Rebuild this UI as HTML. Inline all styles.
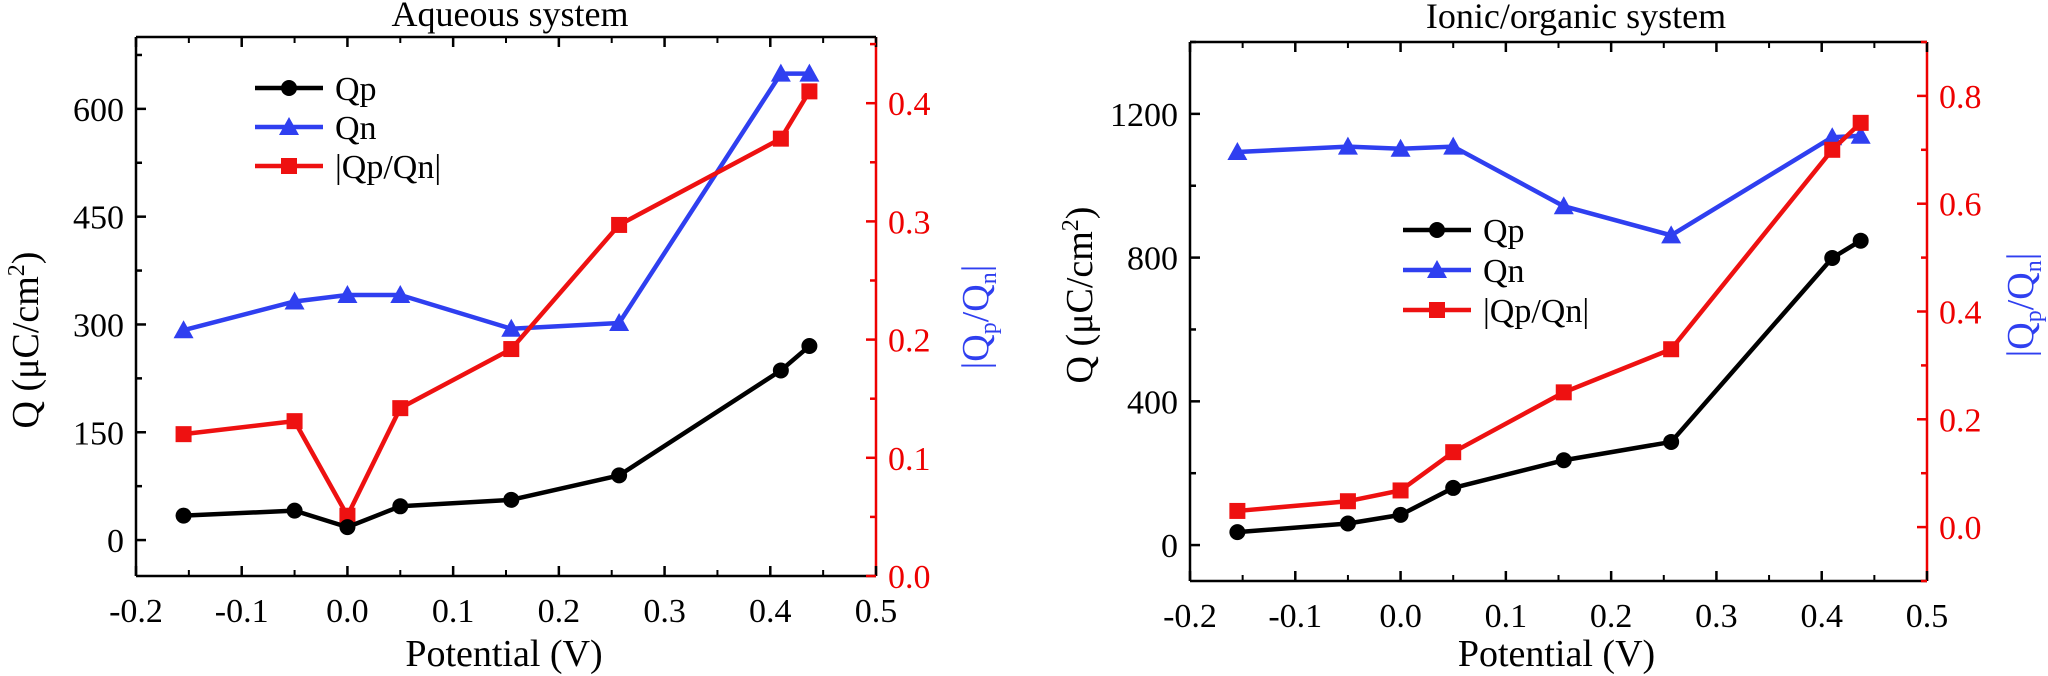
<!DOCTYPE html>
<html><head><meta charset="utf-8"><style>
html,body{margin:0;padding:0;background:#fff;}
svg{display:block;}
svg text{font-family:"Liberation Serif","DejaVu Serif","Times New Roman",serif;}
</style></head><body>
<svg id="chart" width="2048" height="676" viewBox="0 0 2048 676" xmlns="http://www.w3.org/2000/svg" font-family="Liberation Serif, serif"></svg>
<script>
// ---- shared data ----
const potentials = [-0.155, -0.05, 0.0, 0.05, 0.155, 0.257, 0.41, 0.437];
const xTicks = [-0.2, -0.1, 0.0, 0.1, 0.2, 0.3, 0.4, 0.5];
const xTickLabels = ["-0.2","-0.1","0.0","0.1","0.2","0.3","0.4","0.5"];
// ---- aqueous ----
const aqQp = [34, 41, 18, 47, 56, 90, 236, 270];
const aqQn = [292, 332, 341, 341, 294, 302, 649, 649];
const aqRatio = [0.12, 0.131, 0.051, 0.142, 0.192, 0.297, 0.37, 0.41];
const aqYTicks = [0, 150, 300, 450, 600];
const aqRTicks = [0.0, 0.1, 0.2, 0.3, 0.4];
const aqRTickLabels = ["0.0","0.1","0.2","0.3","0.4"];
// ---- ionic/organic ----
const ioQp = [36, 60, 84, 159, 236, 287, 799, 847];
const ioQn = [1094, 1109, 1103, 1109, 943, 862, 1135, 1139];
const ioRatio = [0.03, 0.048, 0.068, 0.139, 0.25, 0.33, 0.70, 0.75];
const ioYTicks = [0, 400, 800, 1200];
const ioRTicks = [0.0, 0.2, 0.4, 0.6, 0.8];
const ioRTickLabels = ["0.0","0.2","0.4","0.6","0.8"];

const NS = "http://www.w3.org/2000/svg";
const svg = document.getElementById("chart");
function mk(tag, attrs, parent, name, inter) {
  const e = document.createElementNS(NS, tag);
  for (const k in attrs) e.setAttribute(k, attrs[k]);
  
  
  (parent || svg).appendChild(e);
  return e;
}
function txt(x, y, s, attrs, name, parent) {
  const t = mk("text", Object.assign({x: x, y: y, "font-family": "Liberation Serif, serif"}, attrs), parent, name, false);
  t.textContent = s;
  return t;
}
function marker(g, type, x, y, color, name) {
  if (type === "circle") mk("circle", {cx: x, cy: y, r: 8, fill: color}, g, name, true);
  else if (type === "square") mk("rect", {x: x-8, y: y-8, width: 16, height: 16, fill: color}, g, name, true);
  else mk("polygon", {points: `${x},${y-10} ${x-10},${y+8} ${x+10},${y+8}`, fill: color}, g, name, true);
}
function series(g, xs, ys, xf, yf, color, type, name) {
  const pts = xs.map((v, i) => xf(v) + "," + yf(ys[i])).join(" ");
  mk("polyline", {points: pts, fill: "none", stroke: color, "stroke-width": 4.5, "stroke-linejoin": "round"}, g, name + "-line", false);
  xs.forEach((v, i) => marker(g, type, xf(v), yf(ys[i]), color, name + "-point"));
}

function panel(o) {
  const g = mk("g", {}, svg, o.name, false);
  const L = o.L, R = o.R, T = o.T, B = o.B;
  const xf = v => L + (v - (-0.2)) / 0.7 * (R - L);
  const yf = v => B - (v - o.ymin) / (o.ymax - o.ymin) * (B - T);
  const rf = v => B - (v - o.rmin) / (o.rmax - o.rmin) * (B - T);
  mk("line", {x1: L, y1: T, x2: R, y2: T, stroke: "#000", "stroke-width": 2.5}, g, "top-axis", false);
  mk("line", {x1: L, y1: B, x2: R, y2: B, stroke: "#000", "stroke-width": 2.5}, g, "x-axis", false);
  mk("line", {x1: L, y1: T, x2: L, y2: B, stroke: "#000", "stroke-width": 2.5}, g, "y-axis", false);
  mk("line", {x1: R, y1: T, x2: R, y2: B, stroke: "#e00", "stroke-width": 2.5}, g, "right-y-axis", false);
  xTicks.forEach((v, i) => {
    const x = xf(v);
    mk("line", {x1: x, y1: B, x2: x, y2: B-10, stroke: "#000", "stroke-width": 2.5}, g, "x-tick", false);
    mk("line", {x1: x, y1: T, x2: x, y2: T+10, stroke: "#000", "stroke-width": 2.5}, g, "x-tick-top", false);
    if (i < xTicks.length - 1) {
      const xm = xf(v + 0.05);
      mk("line", {x1: xm, y1: B, x2: xm, y2: B-6, stroke: "#000", "stroke-width": 2}, g, "x-minor-tick", false);
      mk("line", {x1: xm, y1: T, x2: xm, y2: T+6, stroke: "#000", "stroke-width": 2}, g, "x-minor-tick-top", false);
    }
    txt(x, B + 46, xTickLabels[i], {"font-size": 34, "text-anchor": "middle", fill: "#000"}, "x-tick-label", g);
  });
  const ystep = o.yTicks[1] - o.yTicks[0];
  for (let v = o.yTicks[0] - ystep/2; v <= o.ymax; v += ystep/2) {
    if (v < o.ymin) continue;
    const major = o.yTicks.includes(Math.round(v));
    const y = yf(v);
    mk("line", {x1: L, y1: y, x2: L + (major ? 10 : 6), y2: y, stroke: "#000", "stroke-width": 2.5}, g, major ? "y-tick" : "y-minor-tick", false);
  }
  o.yTicks.forEach(v => txt(L - 12, yf(v) + 12, String(v), {"font-size": 34, "text-anchor": "end", fill: "#000"}, "y-tick-label", g));
  const rstep = o.rTicks[1] - o.rTicks[0];
  for (let k = -1; k <= 2 * o.rTicks.length + 1; k++) {
    const v = o.rTicks[0] + k * rstep / 2;
    if (v < o.rmin - 1e-9 || v > o.rmax + 1e-9) continue;
    const major = k % 2 === 0 && k >= 0 && k / 2 < o.rTicks.length;
    const y = rf(v);
    mk("line", {x1: R, y1: y, x2: R - (major ? 10 : 6), y2: y, stroke: "#e00", "stroke-width": 2.5}, g, major ? "right-tick" : "right-minor-tick", false);
  }
  o.rTicks.forEach((v, i) => txt(R + 12, rf(v) + 12, o.rTickLabels[i], {"font-size": 34, fill: "#e00"}, "right-tick-label", g));
  series(g, potentials, o.qn, xf, yf, "#2f3ff0", "tri", "qn");
  series(g, potentials, o.ratio, xf, rf, "#ee1111", "square", "ratio");
  series(g, potentials, o.qp, xf, yf, "#000", "circle", "qp");
  txt(o.titleX, o.titleY, o.title, {"font-size": 36, "text-anchor": "middle", fill: "#000"}, "chart-title", g);
  txt((L + R) / 2 - 2, 666, "Potential (V)", {"font-size": 38, "text-anchor": "middle", fill: "#000"}, "x-axis-title", g);
  const yt = txt(0, 0, "", {"font-size": 38, "text-anchor": "middle", fill: "#000", transform: `translate(${o.ytX},${o.ytY}) rotate(-90)`}, "y-axis-title", g);
  yt.innerHTML = 'Q (μC/cm<tspan dy="-14" font-size="24">2</tspan><tspan dy="14">)</tspan>';
  const rt = txt(0, 0, "", {"font-size": 38, "text-anchor": "middle", fill: "#2f3ff0", transform: `translate(${o.rtX},${o.rtY}) rotate(-90)`}, "right-axis-title", g);
  rt.innerHTML = '|Q<tspan dy="8" font-size="24">p</tspan><tspan dy="-8">/Q</tspan><tspan dy="8" font-size="24">n</tspan><tspan dy="-8">|</tspan>';
  const lg = mk("g", {}, g, "legend", false);
  const items = [["Qp", "#000", "circle"], ["Qn", "#2f3ff0", "tri"], ["|Qp/Qn|", "#ee1111", "square"]];
  items.forEach((it, i) => {
    const y = o.legY + i * o.legDy;
    mk("line", {x1: o.legX, y1: y, x2: o.legX + 68, y2: y, stroke: it[1], "stroke-width": 4.5}, lg, "legend-line", false);
    marker(lg, it[2], o.legX + 34, y, it[1], "legend-marker");
    txt(o.legX + 80, y + 12, it[0], {"font-size": 34, fill: "#000"}, "legend-label", lg);
  });
}

panel({name: "aqueous-chart", L: 136, R: 876, T: 37, B: 576, ymin: -50, ymax: 700, rmin: 0, rmax: 0.456,
  yTicks: aqYTicks, rTicks: aqRTicks, rTickLabels: aqRTickLabels, qp: aqQp, qn: aqQn, ratio: aqRatio,
  title: "Aqueous system", titleX: 510, titleY: 26, ytX: 38, ytY: 340, rtX: 988, rtY: 317,
  legX: 255, legY: 88, legDy: 39});
panel({name: "ionic-organic-chart", L: 1190, R: 1927, T: 42, B: 581, ymin: -100, ymax: 1400, rmin: -0.1, rmax: 0.9,
  yTicks: ioYTicks, rTicks: ioRTicks, rTickLabels: ioRTickLabels, qp: ioQp, qn: ioQn, ratio: ioRatio,
  title: "Ionic/organic system", titleX: 1576, titleY: 28, ytX: 1092, ytY: 295, rtX: 2033, rtY: 305,
  legX: 1403, legY: 230, legDy: 40});
</script>
</body></html>
